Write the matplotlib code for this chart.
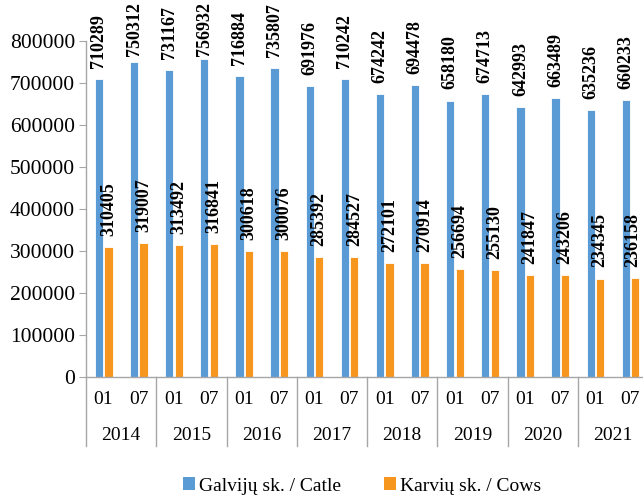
import matplotlib
matplotlib.use("Agg")
import matplotlib.pyplot as plt
import numpy as np
from matplotlib.transforms import blended_transform_factory
from matplotlib.lines import Line2D
from matplotlib.patches import Patch

years = ["2014", "2015", "2016", "2017", "2018", "2019", "2020", "2021"]
months = ["01", "07"]
cattle = [710289, 750312, 731167, 756932, 716884, 735807, 691976, 710242,
          674242, 694478, 658180, 674713, 642993, 663489, 635236, 660233]
cows = [310405, 319007, 313492, 316841, 300618, 300076, 285392, 284527,
        272101, 270914, 256694, 255130, 241847, 243206, 234345, 236158]
series_names = ["Galvijų sk. / Catle", "Karvių sk. / Cows"]

blue = "#5B9BD5"
orange = "#F7961E"
axis_col = "#A6A6A6"

plt.rcParams['font.family'] = ['Liberation Serif', 'DejaVu Serif']

fig = plt.figure(figsize=(6.43, 4.97), dpi=100)
ax = fig.add_axes([86/643, 1-377/497, 562/643, (377-41)/497])

n = len(cattle)
x = np.arange(n)
w = 0.235
ax.bar(x - 0.13, cattle, width=w, color=blue, edgecolor='white', linewidth=0.6, zorder=2)
ax.bar(x + 0.14, cows, width=w, color=orange, edgecolor='white', linewidth=0.6, zorder=2)

labels = []
for xi, v in zip(x, cattle):
    labels.append(ax.annotate(str(v), (xi - 0.13, v), xytext=(0, 8), textcoords='offset points',
                rotation=90, ha='center', va='bottom', fontsize=13, fontweight='bold',
                annotation_clip=False))
for xi, v in zip(x, cows):
    labels.append(ax.annotate(str(v), (xi + 0.14, v), xytext=(0, 8), textcoords='offset points',
                rotation=90, ha='center', va='bottom', fontsize=13, fontweight='bold',
                annotation_clip=False))

ax.set_xlim(-0.5, n - 0.5)
ax.set_ylim(0, 800000)
ax.set_yticks(np.arange(0, 800001, 100000))
ax.tick_params(axis='y', labelsize=15.5, length=5, color=axis_col, pad=3)
ax.set_xticks([])
for s in ['top', 'right']:
    ax.spines[s].set_visible(False)
for s in ['left', 'bottom']:
    ax.spines[s].set_color(axis_col)
    ax.spines[s].set_linewidth(1.0)

trans = blended_transform_factory(ax.transData, ax.transAxes)
px = 1/336  # axes fraction per pixel vertically
for i in range(n):
    ax.text(i, -(400-377)*px, months[i % 2], transform=trans, ha='center', va='center', fontsize=14)
for k, yr in enumerate(years):
    ax.text(2*k + 0.5, -(435-377)*px, yr, transform=trans, ha='center', va='center', fontsize=14)
for k in range(len(years) + 1):
    xb = 2*k - 0.5
    ax.add_line(Line2D([xb, xb], [0, -(446-377)*px], transform=trans, color=axis_col,
                       linewidth=1.0, clip_on=False))

handles = [Patch(facecolor=blue, label=series_names[0]), Patch(facecolor=orange, label=series_names[1])]
fig.legend(handles=handles, loc='center', bbox_to_anchor=(362/643, 1-486/497), ncol=2,
           frameon=False, fontsize=14, handlelength=0.65, handleheight=0.65, handletextpad=0.2,
           columnspacing=2.2)

# keep value labels inside the figure: pull back any label that would be cut at an edge
fig.canvas.draw()
renderer = fig.canvas.get_renderer()
H = fig.bbox.height
W = fig.bbox.width
for t in labels:
    bb = t.get_window_extent(renderer)
    ox, oy = t.xyann
    over_top = bb.y1 - (H - 2)
    if over_top > 0:
        oy -= over_top * 72 / fig.dpi
    over_right = bb.x1 - (W - 2)
    if over_right > 0:
        ox -= over_right * 72 / fig.dpi
    t.xyann = (ox, oy)

fig.savefig("out.png", dpi=100)
